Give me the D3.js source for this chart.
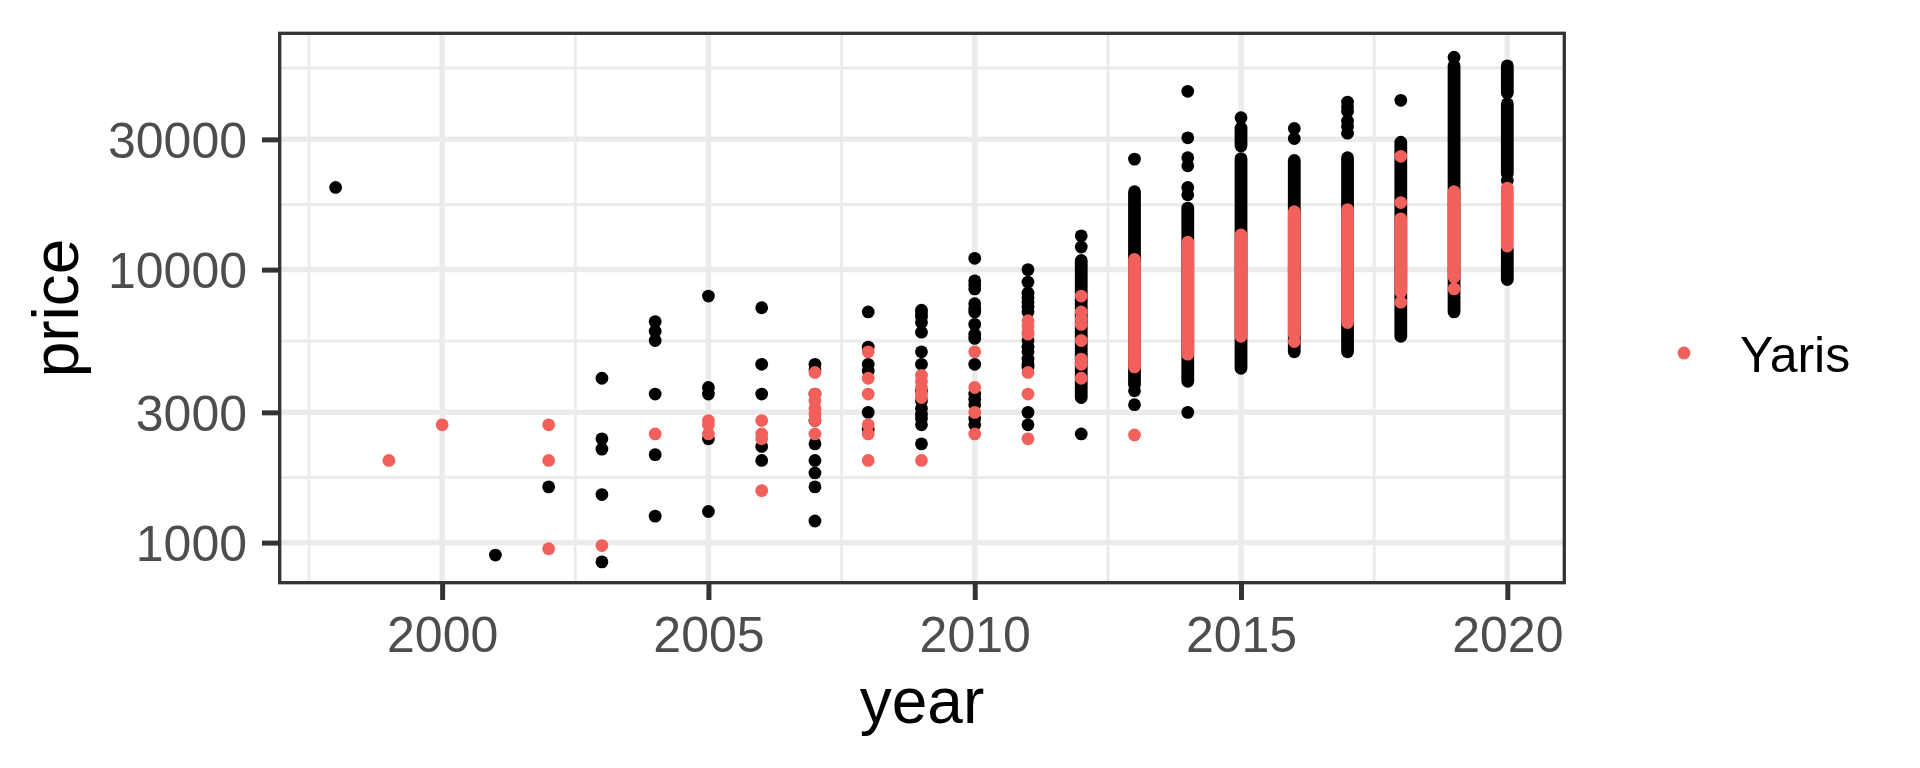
<!DOCTYPE html>
<meta charset="utf-8">
<script src="https://d3js.org/d3.v7.min.js"></script>
<style>
body { margin: 0; background: #fff; }
svg text { font-family: "Liberation Sans", Arial, sans-serif; }
.axis path.domain { display: none; }
.axis line { stroke: #333333; stroke-width: 5; }
.axis text { fill: #4d4d4d; font-size: 50px; }
</style>
<body>
<script>

// one entry per model year
var years = [1998, 1999, 2000, 2001, 2002, 2003, 2004, 2005, 2006, 2007, 2008,
             2009, 2010, 2011, 2012, 2013, 2014, 2015, 2016, 2017, 2018, 2019, 2020];

// all Toyota models (black), single points
var otherPoints = [
  [20000],                                                   // 1998
  [],                                                        // 1999
  [],                                                        // 2000
  [900],                                                     // 2001
  [1600],                                                    // 2002
  [4000, 2400, 2200, 1500, 850],                             // 2003
  [6450, 5950, 5500, 3500, 2100, 1250],                      // 2004
  [8000, 3700, 3500, 2400, 1300],                            // 2005
  [7250, 4500, 3500, 2250, 2000],                            // 2006
  [4500, 4300, 3500, 2800, 2300, 2000, 1800, 1600, 1200],    // 2007
  [7000, 5200, 4500, 4250, 3000, 2600],                      // 2008
  [7100, 6900, 6700, 6400, 5900, 5000, 4500, 3600, 3300, 3100, 2950, 2850, 2700, 2300], // 2009
  [11000, 9100, 8800, 8500, 7500, 7200, 7000, 6300, 5800, 5600, 4500, 3500, 3350, 3200, 2850, 2700], // 2010
  [10000, 9000, 8200, 7900, 7600, 7300, 7000, 5500, 5200, 5000, 4700, 4500, 4400, 3000, 2700], // 2011
  [13300, 12100, 2500],                                      // 2012
  [25400, 3600, 3200],                                       // 2013
  [45000, 30400, 25700, 24000, 20000, 18800, 3000],          // 2014
  [36000],                                                   // 2015
  [32900, 30200],                                            // 2016
  [41100, 39500, 38000, 35000, 33500, 31600],                // 2017
  [41700],                                                   // 2018
  [60000],                                                   // 2019
  [21200]                                                    // 2020
];

// runs of overlapping points that merge into a solid column: [low, high]
var otherBands = [
  [], [], [], [], [], [], [], [], [], [], [], [], [], [],
  [[3400, 10800]],                                  // 2012
  [[3800, 19300]],                                  // 2013
  [[3900, 16800]],                                  // 2014
  [[28400, 33000], [4350, 25500]],                  // 2015
  [[5000, 25100]],                                  // 2016
  [[5000, 25700]],                                  // 2017
  [[5700, 29300]],                                  // 2018
  [[7000, 55800]],                                  // 2019
  [[44400, 55800], [22500, 40500], [9200, 11800]]   // 2020
];

// Yaris (red)
var yarisPoints = [
  [],                                          // 1998
  [2000],                                      // 1999
  [2700],                                      // 2000
  [],                                          // 2001
  [2700, 2000, 950],                           // 2002
  [975],                                       // 2003
  [2500],                                      // 2004
  [2800, 2700, 2500],                          // 2005
  [2800, 2500, 2400, 1550],                    // 2006
  [4200, 3500, 3300, 3100, 2950, 2800, 2500],  // 2007
  [5000, 4000, 3500, 2700, 2500, 2000],        // 2008
  [4100, 3900, 3700, 3500, 3400, 2000],        // 2009
  [5000, 3700, 3000, 2500],                    // 2010
  [6500, 6200, 5900, 5800, 4200, 3500, 2400],  // 2011
  [8000, 7000, 6600, 6300, 5500, 4700, 4500, 4000], // 2012
  [2480],                                      // 2013
  [4900],                                      // 2014
  [],                                          // 2015
  [5450],                                      // 2016
  [],                                          // 2017
  [26000, 17600, 7600],                        // 2018
  [8500],                                      // 2019
  []                                           // 2020
];

var yarisBands = [
  [], [], [], [], [], [], [], [], [], [], [], [], [], [], [],
  [[4400, 10900]],    // 2013
  [[5100, 12600]],    // 2014
  [[5700, 13400]],    // 2015
  [[5800, 16300]],    // 2016
  [[6400, 16600]],    // 2017
  [[8300, 15350]],    // 2018
  [[9400, 19300]],    // 2019
  [[12200, 19900]]    // 2020
];

var xTicks = [2000, 2005, 2010, 2015, 2020];
var xMinor = [1997.5, 2002.5, 2007.5, 2012.5, 2017.5];
var yTicks = [1000, 3000, 10000, 30000];
var yMinor = [1732, 5477, 17321, 54772];
var seriesName = "Yaris";

var width = 1920, height = 768;
var panel = {left: 279.7, right: 1564.3, top: 33.3, bottom: 582.7};
var r = 6.4;
var red = "#F2605C";

var svg = d3.select("body").append("svg")
    .attr("width", width)
    .attr("height", height);

var x = d3.scaleLinear()
    .domain([1996.95, 2021.07])
    .range([panel.left, panel.right]);

var y = d3.scaleLog()
    .domain([713, 73400])
    .range([panel.bottom, panel.top]);

// grid
var grid = svg.append("g");
grid.selectAll(".xminor").data(xMinor).enter().append("line")
    .attr("x1", d => x(d)).attr("x2", d => x(d))
    .attr("y1", panel.top).attr("y2", panel.bottom)
    .attr("stroke", "#ebebeb").attr("stroke-width", 2.8);
grid.selectAll(".yminor").data(yMinor).enter().append("line")
    .attr("y1", d => y(d)).attr("y2", d => y(d))
    .attr("x1", panel.left).attr("x2", panel.right)
    .attr("stroke", "#ebebeb").attr("stroke-width", 2.8);
grid.selectAll(".xmajor").data(xTicks).enter().append("line")
    .attr("x1", d => x(d)).attr("x2", d => x(d))
    .attr("y1", panel.top).attr("y2", panel.bottom)
    .attr("stroke", "#ebebeb").attr("stroke-width", 5.5);
grid.selectAll(".ymajor").data(yTicks).enter().append("line")
    .attr("y1", d => y(d)).attr("y2", d => y(d))
    .attr("x1", panel.left).attr("x2", panel.right)
    .attr("stroke", "#ebebeb").attr("stroke-width", 5.5);

function flatPoints(list) {
  return years.flatMap(function(yr, i) {
    return list[i].map(function(p) { return {year: yr, price: p}; });
  });
}
function flatBands(list) {
  return years.flatMap(function(yr, i) {
    return list[i].map(function(b) { return {year: yr, lo: b[0], hi: b[1]}; });
  });
}

function drawSeries(pointsList, bandsList, colour) {
  var g = svg.append("g");
  g.selectAll("line").data(flatBands(bandsList)).enter().append("line")
      .attr("x1", d => x(d.year)).attr("x2", d => x(d.year))
      .attr("y1", d => y(d.lo)).attr("y2", d => y(d.hi))
      .attr("stroke", colour)
      .attr("stroke-width", 2 * r)
      .attr("stroke-linecap", "round");
  g.selectAll("circle").data(flatPoints(pointsList)).enter().append("circle")
      .attr("cx", d => x(d.year))
      .attr("cy", d => y(d.price))
      .attr("r", r)
      .attr("fill", colour);
}

drawSeries(otherPoints, otherBands, "#000000");
drawSeries(yarisPoints, yarisBands, red);

// panel border
svg.append("rect")
    .attr("x", panel.left).attr("y", panel.top)
    .attr("width", panel.right - panel.left)
    .attr("height", panel.bottom - panel.top)
    .attr("fill", "none")
    .attr("stroke", "#333333")
    .attr("stroke-width", 3.3);

// axes
svg.append("g")
    .attr("class", "axis")
    .attr("transform", "translate(0," + panel.bottom + ")")
    .call(d3.axisBottom(x).tickValues(xTicks).tickFormat(d3.format("d"))
        .tickSize(17.3).tickPadding(16.5));

svg.append("g")
    .attr("class", "axis")
    .attr("transform", "translate(" + panel.left + ",0)")
    .call(d3.axisLeft(y).tickValues(yTicks).tickFormat(d3.format("d"))
        .tickSize(17.7).tickPadding(15));

svg.selectAll(".axis .tick text").attr("dy", "0.36em");
svg.selectAll(".axis").filter((d, i) => i === 0).selectAll(".tick text").attr("dy", "0.71em");

// axis titles
svg.append("text")
    .attr("x", (panel.left + panel.right) / 2)
    .attr("y", 723)
    .attr("text-anchor", "middle")
    .attr("font-size", 64)
    .attr("fill", "#000")
    .text("year");

svg.append("text")
    .attr("transform", "translate(78," + ((panel.top + panel.bottom) / 2) + ") rotate(-90)")
    .attr("text-anchor", "middle")
    .attr("font-size", 64)
    .attr("fill", "#000")
    .text("price");

// legend
var legend = svg.append("g").attr("transform", "translate(1684,353)");
legend.append("circle").attr("r", r).attr("fill", red);
legend.append("text")
    .attr("x", 56)
    .attr("y", 19)
    .attr("font-size", 50)
    .attr("fill", "#000")
    .text(seriesName);

</script>
</body>
</html>
